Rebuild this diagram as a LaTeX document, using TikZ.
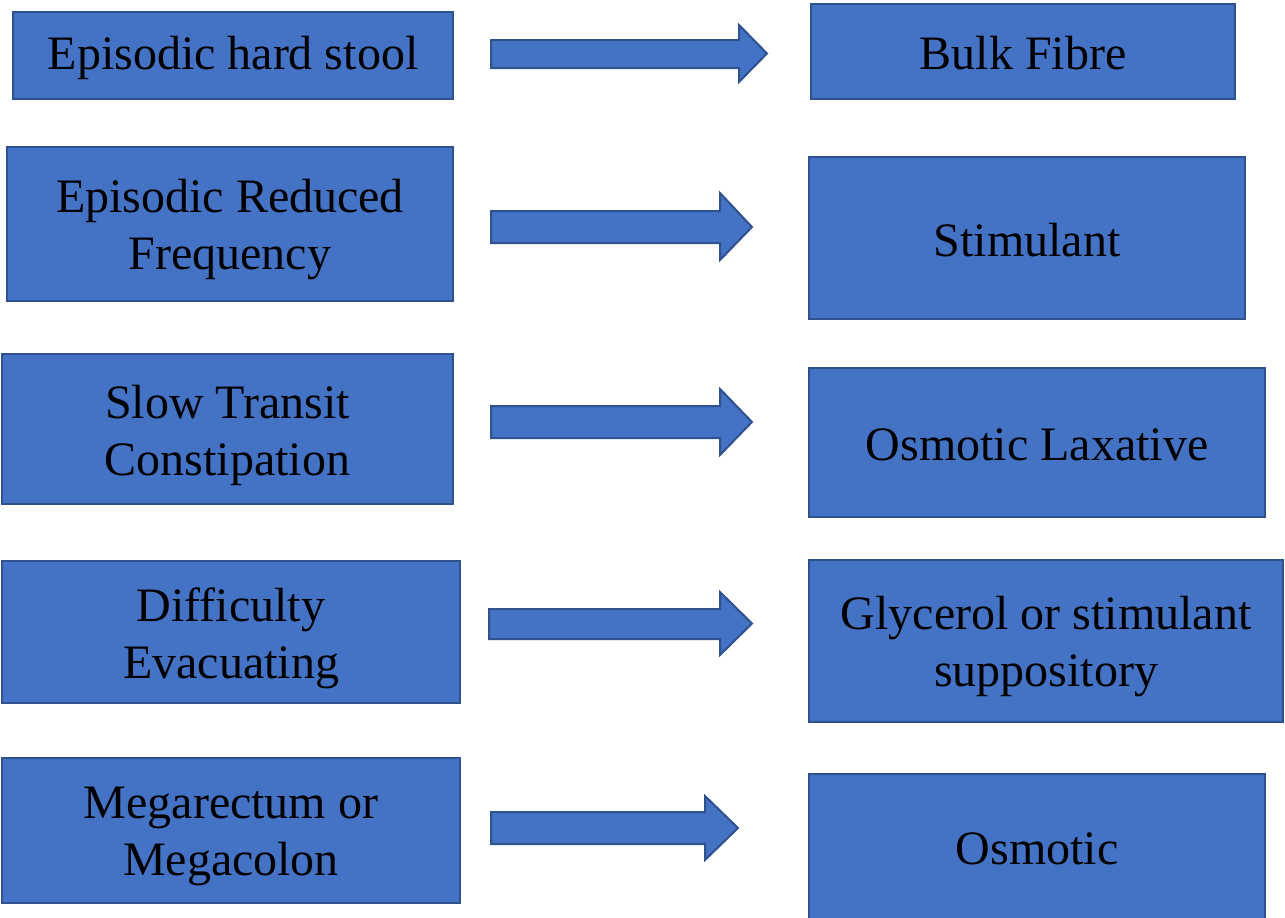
\documentclass[tikz,border=0pt]{standalone}
\usepackage{fontspec}
\setmainfont{Liberation Serif}
\definecolor{boxfill}{HTML}{4472C4}
\definecolor{boxline}{HTML}{2F528F}
\tikzset{
  boxtext/.style={inner sep=0pt,align=center,font=\fontsize{48}{57}\selectfont},
  cause/.style={draw=boxline,fill=boxfill,line width=2pt,inner sep=0pt,
    label={[boxtext,yshift=-6pt]center:{#1}}},
  remedy/.style={draw=boxline,fill=boxfill,line width=2pt,inner sep=0pt,
    label={[boxtext,yshift=-2pt]center:{#1}}},
  blockarrow/.style={draw=boxline,fill=boxfill,line width=2pt,line join=miter}
}
\begin{document}
\begin{tikzpicture}[x=1pt,y=-1pt]
\useasboundingbox (0,0) rectangle (1285,918);
% left column
\node[remedy={Episodic hard stool},minimum width=440pt,minimum height=87pt] (hard) at (233,55.5) {};
\node[cause={Episodic Reduced\\Frequency},minimum width=446pt,minimum height=154pt] (freq) at (230,224) {};
\node[cause={Slow Transit\\Constipation},minimum width=451pt,minimum height=150pt] (slow) at (227.5,429) {};
\node[cause={Difficulty\\Evacuating},minimum width=458pt,minimum height=142pt] (evac) at (231,632) {};
\node[cause={Megarectum or\\Megacolon},minimum width=458pt,minimum height=145pt] (mega) at (231,830.5) {};
% right column
\node[remedy={Bulk Fibre},minimum width=424pt,minimum height=95pt] (fibre) at (1023,51.5) {};
\node[remedy={Stimulant},minimum width=436pt,minimum height=162pt] (stim) at (1027,238) {};
\node[remedy={Osmotic Laxative},minimum width=456pt,minimum height=149pt] (osmlax) at (1037,442.5) {};
\node[cause={Glycerol or stimulant\\suppository},minimum width=474pt,minimum height=162pt] (glyc) at (1046,641) {};
\node[remedy={Osmotic},minimum width=456pt,minimum height=146pt] (osm) at (1037,847) {};
% block arrows
\draw[blockarrow] (491,40) -- (739,40) -- (739,25) -- (767,53.5) -- (739,82) -- (739,68) -- (491,68) -- cycle;
\draw[blockarrow] (491,211) -- (720,211) -- (720,193) -- (752,227) -- (720,260) -- (720,243) -- (491,243) -- cycle;
\draw[blockarrow] (491,406) -- (720,406) -- (720,389) -- (752,422) -- (720,455) -- (720,438) -- (491,438) -- cycle;
\draw[blockarrow] (489,609) -- (720,609) -- (720,592) -- (752,623.5) -- (720,655) -- (720,639) -- (489,639) -- cycle;
\draw[blockarrow] (491,812) -- (705,812) -- (705,796) -- (738,828) -- (705,860) -- (705,844) -- (491,844) -- cycle;
\end{tikzpicture}
\end{document}
